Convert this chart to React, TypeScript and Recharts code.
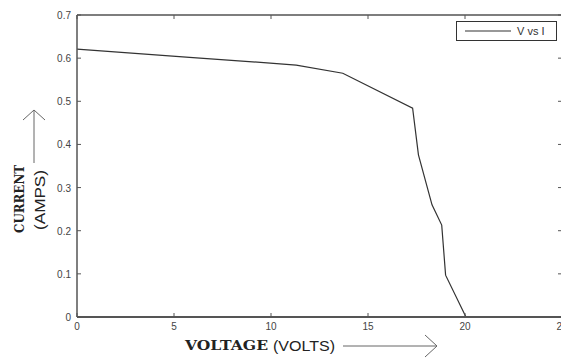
import React from "react";
import { LineChart, Line, XAxis, YAxis, ReferenceLine } from "recharts";

const voltage = [0, 5.8, 11.3, 13.7, 17.3, 17.6, 18.3, 18.8, 19.0, 20.05];
const current = [0.621, 0.602, 0.584, 0.565, 0.484, 0.376, 0.26, 0.213, 0.097, 0];
const xTicks = [0, 5, 10, 15, 20, 25];
const yTicks = [0, 0.1, 0.2, 0.3, 0.4, 0.5, 0.6, 0.7];
const seriesName = "V vs I";

const data = voltage.map((v, i) => ({ v, i: current[i] }));

const TICK_LEN = 4;
const AXIS_COLOR = "#555";
const LABEL_COLOR = "#444";
const FONT = "'Liberation Sans', Arial, sans-serif";

const BottomTick = (props: any) => {
  const { x, y, payload } = props;
  const axisY = y - 2;
  return (
    <g>
      <line x1={x} y1={axisY} x2={x} y2={axisY - TICK_LEN} stroke={AXIS_COLOR} strokeWidth={1} />
      <text x={x} y={y + 11} textAnchor="middle" fontSize={10} fill={LABEL_COLOR} fontFamily={FONT}>
        {payload.value}
      </text>
    </g>
  );
};

const LeftTick = (props: any) => {
  const { x, y, payload } = props;
  const axisX = x + 6;
  return (
    <g>
      <line x1={axisX} y1={y} x2={axisX + TICK_LEN} y2={y} stroke={AXIS_COLOR} strokeWidth={1} />
      <text x={x} y={y + 4} textAnchor="end" fontSize={10} fill={LABEL_COLOR} fontFamily={FONT}>
        {payload.value}
      </text>
    </g>
  );
};

const TopTick = (props: any) => {
  const { x, y } = props;
  return <line x1={x} y1={y} x2={x} y2={y + TICK_LEN} stroke={AXIS_COLOR} strokeWidth={1} />;
};

const RightTick = (props: any) => {
  const { x, y } = props;
  return <line x1={x} y1={y} x2={x - TICK_LEN} y2={y} stroke={AXIS_COLOR} strokeWidth={1} />;
};

export default function App() {
  return (
    <div
      style={{
        position: "absolute",
        left: 0,
        top: 0,
        width: 561,
        height: 363,
        overflow: "hidden",
        background: "#fff",
      }}
    >
      <LineChart
        width={570}
        height={363}
        data={data}
        margin={{ top: 14, right: 7, bottom: 0, left: 0 }}
      >
        <XAxis
          xAxisId="b"
          dataKey="v"
          type="number"
          domain={[0, 25]}
          ticks={xTicks}
          height={46}
          tickSize={0}
          tickMargin={2}
          tickLine={false}
          tick={<BottomTick />}
          axisLine={{ stroke: AXIS_COLOR, strokeWidth: 2 }}
          allowDataOverflow
        />
        <XAxis
          xAxisId="t"
          dataKey="v"
          orientation="top"
          type="number"
          domain={[0, 25]}
          ticks={xTicks}
          height={1}
          tickSize={0}
          tickMargin={0}
          tickLine={false}
          tick={<TopTick />}
          axisLine={{ stroke: AXIS_COLOR, strokeWidth: 1.2 }}
          allowDataOverflow
        />
        <YAxis
          yAxisId="l"
          type="number"
          domain={[0, 0.7]}
          ticks={yTicks}
          width={77}
          tickSize={0}
          tickMargin={6}
          tickLine={false}
          tick={<LeftTick />}
          axisLine={{ stroke: AXIS_COLOR, strokeWidth: 1.5 }}
          allowDataOverflow
        />
        <YAxis
          yAxisId="r"
          orientation="right"
          type="number"
          domain={[0, 0.7]}
          ticks={yTicks}
          width={1}
          tickSize={0}
          tickMargin={0}
          tickLine={false}
          tick={<RightTick />}
          axisLine={{ stroke: AXIS_COLOR, strokeWidth: 1.2 }}
          allowDataOverflow
        />
        <ReferenceLine xAxisId="b" yAxisId="l" y={0.7} stroke={AXIS_COLOR} strokeWidth={1.2} ifOverflow="visible" />
        <ReferenceLine xAxisId="b" yAxisId="l" x={25} stroke={AXIS_COLOR} strokeWidth={1.2} ifOverflow="visible" />
        <Line
          xAxisId="t"
          yAxisId="r"
          dataKey="i"
          stroke="none"
          strokeWidth={0}
          dot={false}
          legendType="none"
          isAnimationActive={false}
        />
        <Line
          xAxisId="b"
          yAxisId="l"
          dataKey="i"
          name={seriesName}
          type="linear"
          stroke="#333"
          strokeWidth={1.2}
          dot={false}
          isAnimationActive={false}
        />
      </LineChart>
      <div
        style={{
          position: "absolute",
          left: 456,
          top: 21,
          width: 101,
          height: 20,
          border: "1px solid #333",
          background: "#fff",
          boxSizing: "border-box",
        }}
      >
        <svg width={101} height={20} style={{ position: "absolute", left: 0, top: 0 }}>
          <line x1={8} y1={9} x2={54} y2={9} stroke="#333" strokeWidth={1.2} />
          <text x={60} y={13} fontSize={11} fill="#333" fontFamily={FONT}>
            {seriesName}
          </text>
        </svg>
      </div>
      <svg
        width={561}
        height={363}
        style={{ position: "absolute", left: 0, top: 0, pointerEvents: "none" }}
      >
        <text
          transform="translate(24,199) rotate(-90)"
          textAnchor="middle"
          fontSize={13}
          fontWeight="bold"
          fontFamily="'DejaVu Serif', 'Liberation Serif', serif"
          fill="#222"
          textLength={68}
          lengthAdjust="spacingAndGlyphs"
        >
          CURRENT
        </text>
        <text
          transform="translate(45,200) rotate(-90)"
          textAnchor="middle"
          fontSize={14}
          fontFamily={FONT}
          fill="#222"
          textLength={60}
          lengthAdjust="spacingAndGlyphs"
        >
          (AMPS)
        </text>
        <line x1={34} y1={163} x2={34} y2={110} stroke="#666" strokeWidth={1} />
        <polyline points="23,120 34,110 45,120" fill="none" stroke="#666" strokeWidth={1} />
        <text
          x={185}
          y={350}
          fontSize={13}
          fontWeight="bold"
          fontFamily="'DejaVu Serif', 'Liberation Serif', serif"
          fill="#222"
          textLength={83}
          lengthAdjust="spacingAndGlyphs"
        >
          VOLTAGE
        </text>
        <text
          x={273}
          y={351}
          fontSize={15}
          fontFamily={FONT}
          fill="#222"
          textLength={62}
          lengthAdjust="spacingAndGlyphs"
        >
          (VOLTS)
        </text>
        <line x1={343} y1={346} x2={437} y2={346} stroke="#666" strokeWidth={1} />
        <polyline points="425,335 437,346 425,357" fill="none" stroke="#666" strokeWidth={1} />
      </svg>
    </div>
  );
}
